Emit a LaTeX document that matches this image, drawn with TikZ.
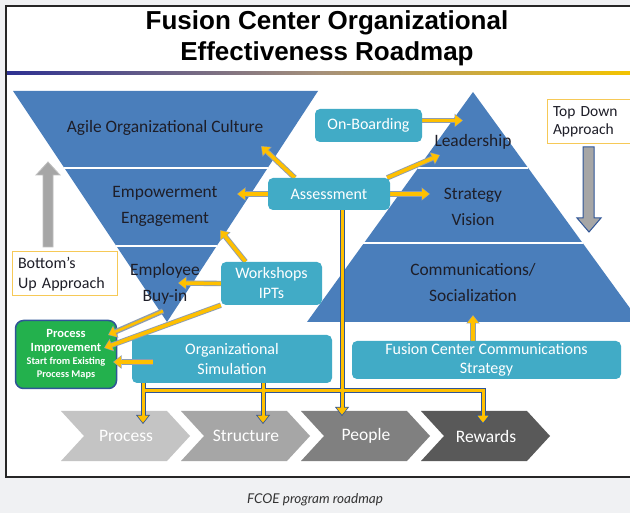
\documentclass[tikz,border=0pt]{standalone}
\usepackage{fontspec}
\setmainfont{Carlito}
\newfontfamily\titlefont{Liberation Sans}
\newfontfamily\capfont{Lato}
\usetikzlibrary{arrows.meta,calc}
\definecolor{bgc}{HTML}{F0F1F3}
\definecolor{triblue}{HTML}{4A7EBB}
\definecolor{tealbox}{HTML}{41ABC6}
\definecolor{goldc}{HTML}{FFC000}
\definecolor{outl}{HTML}{8E9DB0}
\definecolor{navyl}{HTML}{2F5597}
\definecolor{greenbox}{HTML}{23B14D}
\definecolor{txtdark}{HTML}{1E1E28}
\definecolor{lblgold}{HTML}{F6C957}
\definecolor{navyg}{HTML}{2E3192}
\definecolor{goldg}{HTML}{F4C400}
\definecolor{chA}{HTML}{C4C4C4}
\definecolor{chB}{HTML}{A6A6A6}
\definecolor{chC}{HTML}{808080}
\definecolor{chD}{HTML}{595959}
\definecolor{grayarr}{HTML}{A6A6A6}
\tikzset{
  tbox/.style={fill=tealbox, rounded corners=5pt, text=white, align=center, inner sep=0pt, font=\fontsize{16}{19.5}\selectfont},
  band/.style={text=txtdark, align=center, font=\fontsize{17.4}{26}\selectfont},
  chevtxt/.style={text=white, font=\fontsize{17.5}{20}\selectfont},
  lblbox/.style={draw=lblgold, line width=1pt, fill=white, align=left, inner sep=0pt, text=txtdark},
  garrow/.style={draw=goldc, line width=3.6pt, shorten >=0.8pt,
    -{Triangle[length=7pt,width=11pt,line width=0pt]},
    preaction={draw=outl, line width=5.4pt, shorten >=0pt, -{Triangle[length=8.5pt,width=13.5pt,line width=0pt]}}},
  bout/.style={draw=navyl, line width=5pt},
  bgold/.style={draw=goldc, line width=3pt},
  boutarr/.style={bout, -{Triangle[length=9pt,width=14pt,line width=0pt]}},
  bgoldarr/.style={bgold, shorten >=1.3pt, -{Triangle[length=7pt,width=11pt,line width=0pt]}},
}
\begin{document}
\begin{tikzpicture}[x=1pt,y=-1pt]
\useasboundingbox (0,0) rectangle (630,513);
\fill[bgc] (0,0) rectangle (630,513);
% frame
\draw[fill=white, draw=black!85, line width=2pt] (6,6) rectangle (645,477);
% title
\node[font=\titlefont\bfseries\fontsize{26}{30}\selectfont] (title1) at (327,23) {Fusion Center Organizational};
\node[font=\titlefont\bfseries\fontsize{26}{30}\selectfont] (title2) at (327,53.5) {Effectiveness Roadmap};
\shade[left color=navyg, right color=goldg, middle color=black!45!brown!60] (7,71.5) rectangle (632,74.5);

% inverted triangle (left)
\fill[triblue] (13,91) -- (318,91) -- (167,322) -- cycle;
\draw[white, line width=2.5pt] (64,168) -- (268,168);
\draw[white, line width=2.5pt] (116,246) -- (217,246);
% pyramid (right)
\fill[triblue] (473,92) -- (640,322) -- (307,322) -- cycle;
\draw[white, line width=2.5pt] (418,168) -- (528,168);
\draw[white, line width=2.5pt] (363,243) -- (583,243);

\node[band] (agile) at (165,128) {Agile Organizational Culture};
\node[band] (empow) at (165,206) {Empowerment\\Engagement};
\node[band] (buyin) at (165,284) {Employee\\Buy-in};
\node[band] (lead) at (473,142) {Leadership};
\node[band] (strat) at (473,207) {Strategy\\Vision};
\node[band] (comm) at (473,283) {Communications/\\Socialization};

% gray approach arrows
\filldraw[fill=grayarr, draw=black!25, line width=0.8pt] (43,247) -- (53,247) -- (53,175) -- (60,175) -- (48,162) -- (36,175) -- (43,175) -- cycle;
\filldraw[fill=grayarr, draw=navyl, line width=1pt] (583,147) -- (594,147) -- (594,218) -- (601,218) -- (589,232) -- (577,218) -- (583,218) -- cycle;

% label boxes
\node[lblbox, minimum width=105pt, minimum height=44pt, text width=93pt, font=\fontsize{16}{20}\selectfont] (bottomup) at (64.5,274) {Bottom’s\\Up Approach};
\node[lblbox, minimum width=110pt, minimum height=44pt, text width=98pt, font=\fontsize{15.5}{18.5}\selectfont] (topdown) at (602,122) {Top Down\\Approach};

% process improvement (green)
\node[draw=navyl, line width=1.5pt, fill=greenbox, rounded corners=8pt, minimum width=101pt, minimum height=68pt, text=white, align=center, inner sep=0pt, font=\bfseries\fontsize{10.3}{13.5}\selectfont] (procimp) at (66,354.5)
 {{\fontsize{12.5}{14}\selectfont Process}\\[0.5pt] {\fontsize{12.5}{14}\selectfont Improvement}\\[-0.5pt] Start from Existing\\ Process Maps};

% organizational simulation
\node[tbox, minimum width=200pt, minimum height=48pt] (orgsim) at (232,359) {Organizational\\Simulation};

% chevrons
\fill[chA] (61,411) -- (167,411) -- (190,436) -- (167,461) -- (61,461) -- (84,436) -- cycle;
\fill[chB] (181,411) -- (287,411) -- (310,436) -- (287,461) -- (181,461) -- (204,436) -- cycle;
\fill[chC] (301,411) -- (407,411) -- (430,436) -- (407,461) -- (301,461) -- (324,436) -- cycle;
\fill[chD] (421,411) -- (527,411) -- (550,436) -- (527,461) -- (421,461) -- (444,436) -- cycle;
\node[chevtxt] (process) at (126,436) {Process};
\node[chevtxt] (structure) at (246,436) {Structure};
\node[chevtxt] (people) at (366,436) {People};
\node[chevtxt] (rewards) at (486,436) {Rewards};

% tip coordinates
\coordinate (tAg) at (261,146);
\coordinate (tEmp) at (237,194);
\coordinate (tLead) at (440,155);
\coordinate (tStrat) at (430,194);
\coordinate (tOnb) at (463,120.5);
\coordinate (tEmp2) at (220,230);
\coordinate (tBuy) at (178,283);
\coordinate (tPI1) at (104,348);
\coordinate (apexL) at (163,311);
\coordinate (tPI2) at (108,335);
\coordinate (tPI3) at (113,362);
\coordinate (tSoc) at (473,315);
\coordinate (tProc) at (143,424);
\coordinate (tStr) at (263,424);
\coordinate (tPeo) at (342,416);
\coordinate (tRew) at (483,424);
\coordinate (j1) at (143,391);
\coordinate (j3) at (483,391);

% box positions (anchors)
\path (368.5,125.5) node[minimum width=107pt, minimum height=33pt, inner sep=0pt] (onb) {};
\path (329,194) node[minimum width=122pt, minimum height=32pt, inner sep=0pt] (assess) {};
\path (271.5,283.5) node[minimum width=101pt, minimum height=43pt, inner sep=0pt] (wks) {};
\path (486.5,360) node[minimum width=269pt, minimum height=38pt, inner sep=0pt] (fccs) {};

% tree lines: outline pass
\draw[boutarr] ([xshift=-89pt]orgsim.south) -- (tProc);
\draw[boutarr] ([xshift=31pt]orgsim.south) -- (tStr);
\draw[boutarr] (j1) -- (j3) -- (tRew);
\draw[boutarr] ([xshift=13pt]assess.south) -- (tPeo);
% tree lines: gold pass
\draw[bgoldarr] ([xshift=-89pt]orgsim.south) -- (tProc);
\draw[bgoldarr] ([xshift=31pt]orgsim.south) -- (tStr);
\draw[bgoldarr] (j1) -- (j3) -- (tRew);
\draw[bgoldarr] ([xshift=13pt]assess.south) -- (tPeo);

% gold arrows
\draw[garrow] ([xshift=27pt]assess.north west) -- (tAg);
\draw[garrow] (assess.west) -- (tEmp);
\draw[garrow] ([xshift=-3pt]assess.north east) -- (tLead);
\draw[garrow] (assess.east) -- (tStrat);
\draw[garrow] ([yshift=5pt]onb.east) -- (tOnb);
\draw[garrow] ([xshift=-26pt]wks.north) -- (tEmp2);
\draw[garrow] (wks.west) -- (tBuy);
\draw[garrow] (wks.south west) -- (tPI1);
\draw[garrow, line width=2.6pt] (apexL) -- (tPI2);
\draw[garrow] ([xshift=21pt,yshift=-3pt]orgsim.west) -- (tPI3);
\draw[garrow] ([xshift=-13.5pt]fccs.north) -- (tSoc);

% teal boxes on top
\node[tbox, minimum width=107pt, minimum height=33pt] at (onb) {On-Boarding};
\node[tbox, minimum width=122pt, minimum height=32pt] at (assess) {Assessment};
\node[tbox, minimum width=101pt, minimum height=43pt, font=\fontsize{16}{20}\selectfont] at (wks) {Workshops\\IPTs};
\node[tbox, minimum width=269pt, minimum height=38pt] at (fccs) {Fusion Center Communications\\Strategy};

% caption
\node[font=\capfont\itshape\fontsize{13.5}{16}\selectfont, text=black!80] (caption) at (315,500) {FCOE program roadmap};
\end{tikzpicture}
\end{document}
